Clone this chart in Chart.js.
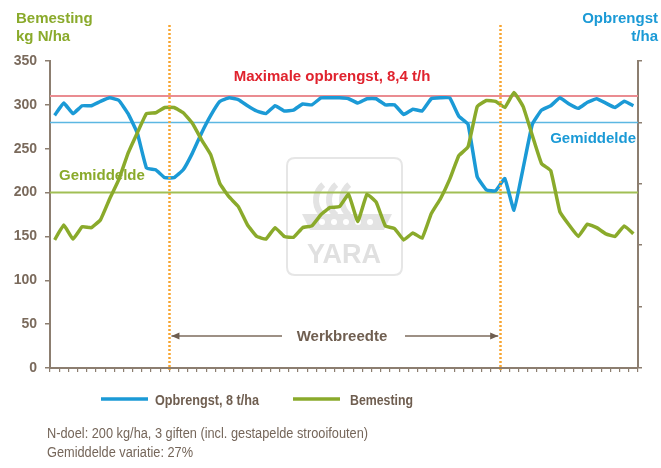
<!DOCTYPE html>
<html>
<head>
<meta charset="utf-8">
<script src="https://cdn.jsdelivr.net/npm/chart.js@4.4.1/dist/chart.umd.min.js"></script>
<style>
  html, body { margin: 0; padding: 0; background: #fff; }
  #wrap { width: 661px; height: 468px; position: relative; }
</style>
</head>
<body>
<div id="wrap"><canvas id="chart" width="661" height="468"></canvas></div>
<script>
// meetpunten over de werkbreedte (64 categorieën, geen labels)
const categories = [
  1, 2, 3, 4, 5, 6, 7, 8, 9, 10, 11, 12, 13, 14, 15, 16,
  17, 18, 19, 20, 21, 22, 23, 24, 25, 26, 27, 28, 29, 30, 31, 32,
  33, 34, 35, 36, 37, 38, 39, 40, 41, 42, 43, 44, 45, 46, 47, 48,
  49, 50, 51, 52, 53, 54, 55, 56, 57, 58, 59, 60, 61, 62, 63, 64
];

const opbrengst = [
  288, 302, 290, 299, 299, 304, 308, 305, 290, 268, 228, 226, 217, 217, 226, 245,
  268, 288, 304, 308, 306, 299, 293, 290, 299, 293, 294, 301, 300, 308, 308, 308,
  307, 302, 307, 307, 300, 300, 289, 295, 293, 307, 308, 308, 287, 278, 218, 203,
  202, 216, 180, 228, 278, 294, 299, 308, 301, 296, 303, 307, 302, 297, 304, 299
];

const bemesting = [
  146, 163, 147, 161, 160, 169, 193, 215, 245, 268, 290, 291, 297, 297, 291, 279,
  260, 243, 210, 195, 184, 163, 150, 147, 160, 150, 149, 160, 162, 175, 183, 184,
  198, 167, 198, 189, 162, 159, 146, 154, 148, 176, 193, 215, 242, 252, 298, 305,
  304, 297, 314, 298, 265, 233, 225, 178, 163, 150, 164, 160, 153, 150, 162, 153
];

const yTicks = [0, 50, 100, 150, 200, 250, 300, 350];

const maxOpbrengst = 310;      // Maximale opbrengst, 8,4 t/h
const gemOpbrengst = 280;
const gemBemesting = 200;
const werkbreedte = [13, 49];  // grenzen tussen de categorieën

const BLUE = '#1b9ad6';
const GREEN = '#8aaa2b';
const BROWN = '#6f5e50';
const AXIS = '#8c7e70';
const ORANGE = '#f7a531';

const SANS = '"Liberation Sans", Arial, sans-serif';

function hLine(ctx, area, y, color, width) {
  ctx.save();
  ctx.strokeStyle = color;
  ctx.lineWidth = width;
  ctx.beginPath();
  ctx.moveTo(area.left, y);
  ctx.lineTo(area.right, y);
  ctx.stroke();
  ctx.restore();
}

// smalle letter (Arial Narrow) nabootsen door horizontaal te schalen
function narrowText(ctx, text, x, y, width) {
  const w = ctx.measureText(text).width;
  ctx.save();
  ctx.translate(x, y);
  ctx.scale(width / w, 1);
  ctx.fillText(text, 0, 0);
  ctx.restore();
}

function roundRect(ctx, x, y, w, h, r) {
  ctx.beginPath();
  ctx.moveTo(x + r, y);
  ctx.lineTo(x + w - r, y);
  ctx.quadraticCurveTo(x + w, y, x + w, y + r);
  ctx.lineTo(x + w, y + h - r);
  ctx.quadraticCurveTo(x + w, y + h, x + w - r, y + h);
  ctx.lineTo(x + r, y + h);
  ctx.quadraticCurveTo(x, y + h, x, y + h - r);
  ctx.lineTo(x, y + r);
  ctx.quadraticCurveTo(x, y, x + r, y);
  ctx.closePath();
}

// watermerk + hulplijnen + teksten
const overlay = {
  id: 'overlay',
  beforeDatasetsDraw(chart) {
    const { ctx, chartArea } = chart;
    const y = chart.scales.y;

    // YARA watermerk
    ctx.save();
    ctx.strokeStyle = '#e6e6e6';
    ctx.lineWidth = 2;
    roundRect(ctx, 287, 158, 115, 117, 8);
    ctx.stroke();
    ctx.fillStyle = '#e3e3e3';
    ctx.strokeStyle = '#e3e3e3';
    ctx.lineWidth = 6;
    for (let i = 0; i < 3; i++) {
      ctx.beginPath();
      ctx.arc(336 + i * 13, 200, 20, Math.PI * 0.72, Math.PI * 1.28);
      ctx.stroke();
    }
    ctx.beginPath();
    ctx.moveTo(302, 214);
    ctx.lineTo(392, 214);
    ctx.lineTo(384, 230);
    ctx.lineTo(310, 230);
    ctx.closePath();
    ctx.fill();
    ctx.fillStyle = '#ffffff';
    for (let i = 0; i < 5; i++) {
      ctx.beginPath();
      ctx.arc(322 + i * 12, 222, 3, 0, Math.PI * 2);
      ctx.fill();
    }
    ctx.fillStyle = '#e0e0e0';
    ctx.font = 'bold 27px ' + SANS;
    ctx.textAlign = 'center';
    ctx.textBaseline = 'alphabetic';
    ctx.fillText('YARA', 344, 263);
    ctx.restore();

    hLine(ctx, chartArea, y.getPixelForValue(maxOpbrengst), '#ea8c91', 2);
    hLine(ctx, chartArea, y.getPixelForValue(gemOpbrengst), '#5cb7e2', 1.5);
    hLine(ctx, chartArea, y.getPixelForValue(gemBemesting), '#a1bf55', 2);
  },
  afterDatasetsDraw(chart) {
    const { ctx, chartArea } = chart;
    const x = chart.scales.x;
    ctx.save();
    ctx.strokeStyle = ORANGE;
    ctx.lineWidth = 2.5;
    ctx.setLineDash([2, 2]);
    werkbreedte.forEach(b => {
      const px = Math.round(x.getPixelForValue(b - 0.5)) + 0.5;
      ctx.beginPath();
      ctx.moveTo(px, 25);
      ctx.lineTo(px, chartArea.bottom + 2);
      ctx.stroke();
    });
    ctx.restore();
  },
  afterDraw(chart) {
    const { ctx } = chart;
    const x = chart.scales.x;
    ctx.save();
    ctx.textBaseline = 'alphabetic';

    // astitels
    ctx.font = 'bold 15px ' + SANS;
    ctx.fillStyle = GREEN;
    ctx.textAlign = 'left';
    ctx.fillText('Bemesting', 16, 23);
    ctx.fillText('kg N/ha', 16, 41);
    ctx.fillStyle = BLUE;
    ctx.textAlign = 'right';
    ctx.fillText('Opbrengst', 658, 23);
    ctx.fillText('t/ha', 658, 41);

    // labels bij de hulplijnen
    ctx.fillStyle = '#e0232e';
    ctx.textAlign = 'center';
    ctx.fillText('Maximale opbrengst, 8,4 t/h', 332, 81);
    ctx.fillStyle = GREEN;
    ctx.textAlign = 'left';
    ctx.fillText('Gemiddelde', 59, 180);
    ctx.fillStyle = BLUE;
    ctx.textAlign = 'right';
    ctx.fillText('Gemiddelde', 636, 143);

    // werkbreedte pijl
    const x0 = x.getPixelForValue(werkbreedte[0] - 0.5) + 2;
    const x1 = x.getPixelForValue(werkbreedte[1] - 0.5) - 2;
    const ya = 336;
    ctx.fillStyle = BROWN;
    ctx.strokeStyle = '#7d6c5e';
    ctx.lineWidth = 1.5;
    ctx.textAlign = 'center';
    ctx.font = 'bold 15px ' + SANS;
    ctx.fillText('Werkbreedte', 342, ya + 5);
    ctx.beginPath();
    ctx.moveTo(x0, ya); ctx.lineTo(282, ya);
    ctx.moveTo(405, ya); ctx.lineTo(x1, ya);
    ctx.stroke();
    ctx.beginPath();
    ctx.moveTo(x0, ya); ctx.lineTo(x0 + 8, ya - 3.5); ctx.lineTo(x0 + 8, ya + 3.5); ctx.closePath();
    ctx.moveTo(x1, ya); ctx.lineTo(x1 - 8, ya - 3.5); ctx.lineTo(x1 - 8, ya + 3.5); ctx.closePath();
    ctx.fill();

    // legenda
    const legend = [
      { ds: chart.data.datasets[0], lx: 101, tx: 155, tw: 104 },
      { ds: chart.data.datasets[1], lx: 293, tx: 350, tw: 63 }
    ];
    ctx.font = 'bold 15px ' + SANS;
    ctx.textAlign = 'left';
    legend.forEach(item => {
      ctx.strokeStyle = item.ds.borderColor;
      ctx.lineWidth = 3.5;
      ctx.beginPath();
      ctx.moveTo(item.lx, 399);
      ctx.lineTo(item.lx + 47, 399);
      ctx.stroke();
      ctx.fillStyle = BROWN;
      narrowText(ctx, item.ds.label, item.tx, 405, item.tw);
    });

    // toelichting
    ctx.font = '14px ' + SANS;
    ctx.fillStyle = '#75665a';
    narrowText(ctx, 'N-doel: 200 kg/ha, 3 giften (incl. gestapelde strooifouten)', 47, 438, 321);
    narrowText(ctx, 'Gemiddelde variatie: 27%', 47, 457, 146);
    ctx.restore();
  }
};

new Chart(document.getElementById('chart'), {
  type: 'line',
  data: {
    labels: categories,
    datasets: [
      {
        label: 'Opbrengst, 8 t/ha',
        data: opbrengst,
        borderColor: BLUE,
        borderWidth: 3.5,
        pointRadius: 0,
        tension: 0.1,
        yAxisID: 'y',
        order: 2
      },
      {
        label: 'Bemesting',
        data: bemesting,
        borderColor: GREEN,
        borderWidth: 3.5,
        pointRadius: 0,
        tension: 0.1,
        yAxisID: 'y',
        order: 1
      }
    ]
  },
  options: {
    responsive: false,
    animation: false,
    layout: { padding: { top: 61, left: 0, right: 0, bottom: 0 } },
    plugins: {
      legend: { display: false },
      tooltip: { enabled: false }
    },
    scales: {
      x: {
        type: 'category',
        offset: true,
        grid: {
          offset: true,
          drawOnChartArea: false,
          drawTicks: true,
          tickLength: 4,
          color: AXIS,
          lineWidth: 1.2
        },
        border: { color: AXIS, width: 2 },
        ticks: { display: false, autoSkip: false },
        afterFit(scale) { scale.height = 100; }
      },
      y: {
        position: 'left',
        min: 0,
        max: 350,
        afterBuildTicks(scale) { scale.ticks = yTicks.map(v => ({ value: v })); },
        grid: {
          drawOnChartArea: false,
          drawTicks: true,
          tickLength: 5,
          color: AXIS,
          lineWidth: 1.5
        },
        border: { color: AXIS, width: 2 },
        ticks: {
          padding: 8,
          color: '#7a6a5c',
          font: { family: SANS, size: 14, weight: 'bold' }
        },
        afterFit(scale) { scale.width = 50; }
      },
      y2: {
        position: 'right',
        display: true,
        min: 0,
        max: 350,
        ticks: { display: false, stepSize: 70 },
        grid: {
          drawOnChartArea: false,
          drawTicks: true,
          tickLength: 4,
          color: AXIS,
          lineWidth: 1.5
        },
        border: { color: AXIS, width: 2 },
        afterFit(scale) { scale.width = 23; }
      }
    }
  },
  plugins: [overlay]
});
</script>
</body>
</html>
